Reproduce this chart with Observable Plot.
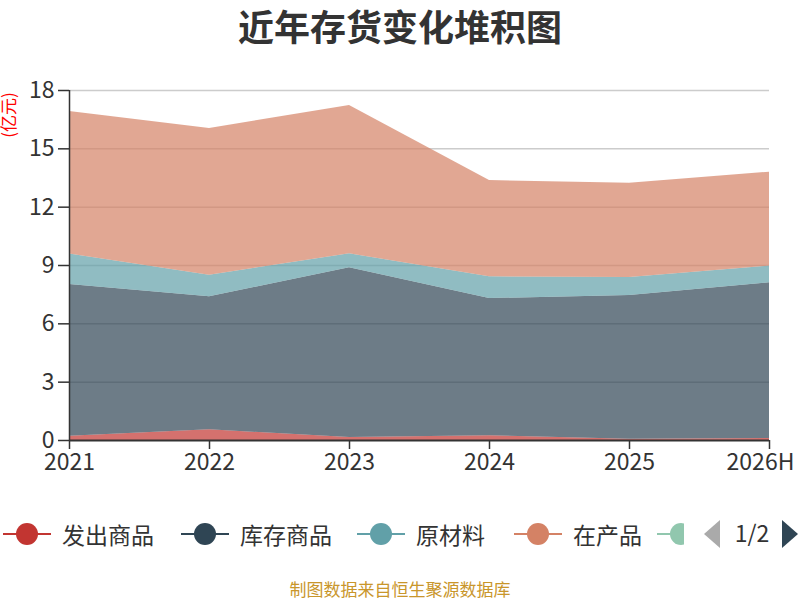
<!DOCTYPE html>
<html><head><meta charset="utf-8">
<script src="https://cdn.jsdelivr.net/npm/d3@7"></script>
<script src="https://cdn.jsdelivr.net/npm/@observablehq/plot@0.6"></script>
<style>
body{margin:0;background:#fff;font-family:"Noto Sans CJK SC","Noto Sans",sans-serif;}
#wrap{position:relative;width:800px;height:600px;overflow:hidden;}
#title{position:absolute;top:0;left:0;width:800px;text-align:center;font-size:36px;font-weight:bold;color:#333;line-height:50px;}
#chart{position:absolute;top:50px;left:0;}
#ylab{position:absolute;left:-18px;top:106px;transform:rotate(-90deg);color:#ff0000;font-size:17px;line-height:18px;width:52px;text-align:center;}
#legend{position:absolute;top:514px;left:0;width:684px;height:40px;overflow:hidden;white-space:nowrap;}
.item{position:absolute;top:0;height:40px;}
.item .ln{position:absolute;top:19px;left:0;width:48px;height:2px;}
.item .dot{position:absolute;top:9px;left:13px;width:22px;height:22px;border-radius:50%;}
.item .tx{position:absolute;left:59px;top:0;line-height:40px;font-size:23px;color:#333;}
#pager{position:absolute;top:514px;left:700px;height:40px;}
#footer{position:absolute;top:576px;left:0;width:800px;text-align:center;font-size:17px;color:#c9962b;}
</style></head>
<body><div id="wrap">
<div id="title">近年存货变化堆积图</div>
<div id="chart"></div>
<div id="ylab">(亿元)</div>
<div id="legend"></div>
<div id="pager"></div>
<div id="footer">制图数据来自恒生聚源数据库</div>
</div>
<script>
const years = ["2021","2022","2023","2024","2025","2026H"];
const seriesNames = ["发出商品","库存商品","原材料","在产品","委托加工物资"];
const colors = ["#c23531","#2f4554","#61a0a8","#d48265","#91c7ae"];
const fachu   = [0.22, 0.55, 0.15, 0.24, 0.07, 0.10];
const kucun   = [7.80, 6.84, 8.73, 7.06, 7.39, 8.01];
const yuancai = [1.57, 1.11, 0.72, 1.12, 0.92, 0.86];
const zaichan = [7.33, 7.55, 7.63, 4.95, 4.85, 4.83];
const yTicks = [0,3,6,9,12,15,18];

const seriesValues = [fachu, kucun, yuancai, zaichan];
const data = [];
seriesValues.forEach((vals, si) => {
  vals.forEach((v, i) => data.push({year: years[i], series: seriesNames[si], value: v}));
});

const chart = Plot.plot({
  width: 800, height: 440,
  marginLeft: 69, marginRight: 31, marginTop: 40, marginBottom: 50,
  style: {fontFamily: '"Noto Sans CJK SC","Noto Sans",sans-serif', color: "#333", background: "transparent", overflow: "visible"},
  x: {type: "point", domain: years, padding: 0},
  y: {domain: [0, 18]},
  color: {domain: seriesNames, range: colors},
  marks: [
    Plot.ruleY(yTicks.slice(1), {stroke: "#ccc", strokeWidth: 1.5}),
    Plot.areaY(data, Plot.stackY({x: "year", y: "value", z: "series", fill: "series", fillOpacity: 0.7, curve: "linear"})),
    Plot.axisY({ticks: yTicks, tickSize: 11, tickPadding: 4, fontSize: 23, stroke: "#333", strokeWidth: 1.5, fill: "#333", label: null}),
    Plot.axisX({text: null, tickSize: 9, stroke: "#333", strokeWidth: 1.5, label: null}),
    Plot.axisX({ticks: years.slice(0, -1), tickSize: 0, tickPadding: 13, fontSize: 23, fill: "#333", label: null}),
    Plot.axisX({ticks: years.slice(-1), tickSize: 0, tickPadding: 13, fontSize: 23, fill: "#333", label: null, dx: -9}),
    Plot.ruleX([years[0]], {y1: 0, y2: 18, stroke: "#333", strokeWidth: 1.5}),
    Plot.ruleY([0], {stroke: "#333", strokeWidth: 2})
  ]
});
document.getElementById("chart").appendChild(chart);

const legendX = [3, 181, 357, 514, 657];
const legend = document.getElementById("legend");
seriesNames.forEach((name, i) => {
  const it = document.createElement("div");
  it.className = "item";
  it.style.left = legendX[i] + "px";
  it.innerHTML = `<div class="ln" style="background:${colors[i]}"></div><div class="dot" style="background:${colors[i]}"></div><div class="tx">${name}</div>`;
  legend.appendChild(it);
});
document.getElementById("pager").innerHTML =
  `<svg width="100" height="40"><polygon points="20,6 4,20 20,34" fill="#aaa"/><text x="52" y="28" text-anchor="middle" font-size="23" fill="#333" font-family="Noto Sans CJK SC">1/2</text><polygon points="82,6 98,20 82,34" fill="#2f4554"/></svg>`;
</script>
</body></html>
